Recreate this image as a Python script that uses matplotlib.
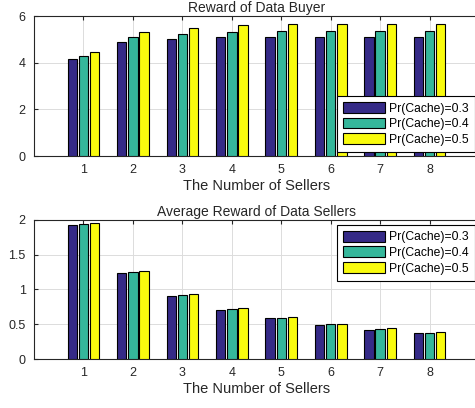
import matplotlib
matplotlib.use("Agg")
import matplotlib.pyplot as plt
import numpy as np

plt.rcParams['font.family'] = ['Liberation Sans', 'DejaVu Sans']

sellers = [1, 2, 3, 4, 5, 6, 7, 8]
labels = ['Pr(Cache)=0.3', 'Pr(Cache)=0.4', 'Pr(Cache)=0.5']
buyer_03 = [4.14, 4.90, 5.01, 5.09, 5.11, 5.11, 5.11, 5.11]
buyer_04 = [4.28, 5.09, 5.24, 5.33, 5.36, 5.36, 5.36, 5.36]
buyer_05 = [4.47, 5.33, 5.49, 5.60, 5.64, 5.64, 5.64, 5.64]
seller_03 = [1.923, 1.239, 0.904, 0.708, 0.584, 0.488, 0.421, 0.373]
seller_04 = [1.937, 1.254, 0.914, 0.718, 0.593, 0.498, 0.428, 0.375]
seller_05 = [1.952, 1.268, 0.928, 0.732, 0.603, 0.507, 0.445, 0.388]
colors = ['#352a87', '#35b79b', '#f9fb0e']

fig = plt.figure(figsize=(4.75, 4.08), dpi=100)
ax1 = fig.add_axes([0.0716, 0.6176, 0.937, 0.343])
ax2 = fig.add_axes([0.0716, 0.120, 0.937, 0.341])

def draw(ax, series, yticks, ylim, title, legloc_anchor, legloc):
    x = np.array(sellers)
    offs = [-0.225, 0.0, 0.225]
    for s, o, c, l in zip(series, offs, colors, labels):
        ax.bar(x + o, s, width=0.19, color=c, edgecolor='black', linewidth=0.8, label=l, zorder=3)
    ax.set_xlim(0, 9)
    ax.set_ylim(*ylim)
    ax.set_xticks(sellers)
    ax.set_yticks(yticks)
    ax.set_yticklabels([('%g' % v) for v in yticks])
    ax.grid(True, color='#dcdcdc', linewidth=0.7, zorder=0)
    ax.set_axisbelow(True)
    ax.tick_params(direction='in', top=True, right=True, labelsize=9, length=3, colors='#262626', pad=6)
    for sp in ax.spines.values():
        sp.set_color('#262626')
        sp.set_linewidth(0.8)
    ax.set_xlabel('The Number of Sellers', fontsize=10.5, color='#262626', labelpad=2)
    ax.set_title(title, fontsize=10, color='#262626', pad=3)
    leg = ax.legend(loc=legloc, bbox_to_anchor=legloc_anchor, fontsize=8.7, frameon=True, fancybox=False,
                    framealpha=1, edgecolor='black', handlelength=3.5, handleheight=1.0,
                    borderaxespad=0.0, labelspacing=0.25, borderpad=0.5, handletextpad=0.3)
    leg.get_frame().set_linewidth(0.8)

draw(ax1, [buyer_03, buyer_04, buyer_05], [0, 2, 4, 6], (0, 6), 'Reward of Data Buyer', (0.681, 0.03), 'lower left')
draw(ax2, [seller_03, seller_04, seller_05], [0, 0.5, 1, 1.5, 2], (0, 2), 'Average Reward of Data Sellers', (0.681, 0.965), 'upper left')

fig.savefig('out.png', dpi=100)
